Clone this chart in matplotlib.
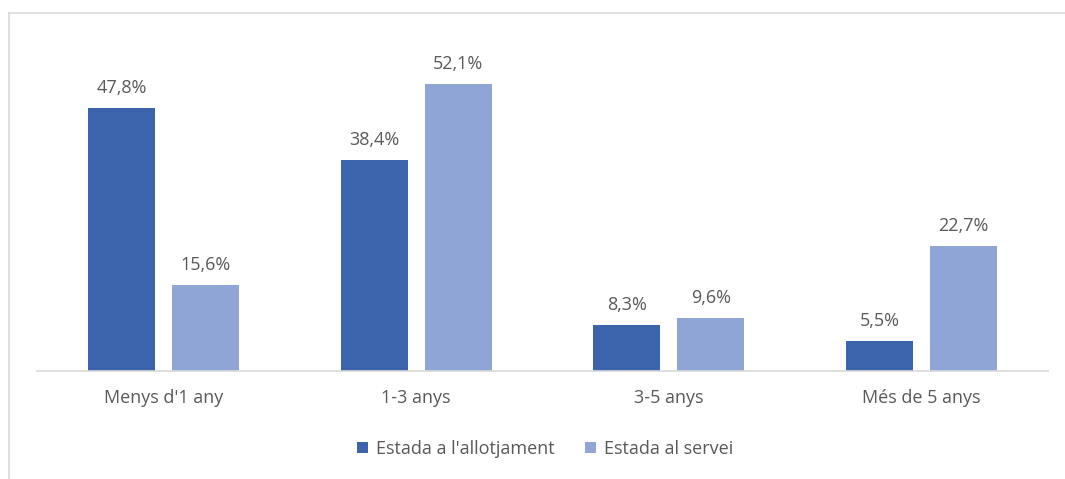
import matplotlib.pyplot as plt
from matplotlib.lines import Line2D
import numpy as np

categories = ["Menys d'1 any", "1-3 anys", "3-5 anys", "Més de 5 anys"]
allotjament = [47.8, 38.4, 8.3, 5.5]
servei = [15.6, 52.1, 9.6, 22.7]
series_names = ["Estada a l'allotjament", "Estada al servei"]

dark = '#3B64AD'
light = '#8FA5D6'
text_col = '#595959'

plt.rcParams['font.family'] = ['Open Sans', 'DejaVu Sans']

fig = plt.figure(figsize=(10.65, 4.79), dpi=100)
# outer chart frame, only left and top edges are inside the picture
fx = 8.5 / 1065
fy = (479 - 12.5) / 479
fig.add_artist(Line2D([fx, fx], [0, fy], transform=fig.transFigure,
                      color='#D9D9D9', linewidth=1.2))
fig.add_artist(Line2D([fx, 1], [fy, fy], transform=fig.transFigure,
                      color='#D9D9D9', linewidth=1.2))

ax = fig.add_axes([37 / 1065, (479 - 371) / 479, 1011 / 1065, 330 / 479])
x = np.arange(len(categories))
w = 0.265
gap = 0.067
b1 = ax.bar(x - (w + gap) / 2, allotjament, w, color=dark, label=series_names[0])
b2 = ax.bar(x + (w + gap) / 2, servei, w, color=light, label=series_names[1])

for bars, vals in [(b1, allotjament), (b2, servei)]:
    for b, v in zip(bars, vals):
        ax.annotate(f"{v:.1f}%".replace('.', ','),
                    (b.get_x() + b.get_width() / 2, b.get_height()),
                    xytext=(0, 8), textcoords='offset points',
                    ha='center', va='bottom', fontsize=13, color=text_col)

ax.set_xlim(-0.5, len(categories) - 0.5)
ax.set_ylim(0, 60)
ax.set_xticks(x)
ax.set_xticklabels(categories, fontsize=13, color=text_col)
ax.tick_params(axis='x', length=0, pad=13)
ax.set_yticks([])
for s in ['top', 'right', 'left']:
    ax.spines[s].set_visible(False)
ax.spines['bottom'].set_color('#D9D9D9')
ax.spines['bottom'].set_linewidth(1.2)

fig.legend(loc='center', bbox_to_anchor=(545 / 1065, (479 - 449) / 479),
           ncol=2, frameon=False, fontsize=13, labelcolor=text_col,
           handlelength=0.6, handleheight=0.6, handletextpad=0.45,
           columnspacing=1.7)

plt.savefig('out.png', dpi=100)
